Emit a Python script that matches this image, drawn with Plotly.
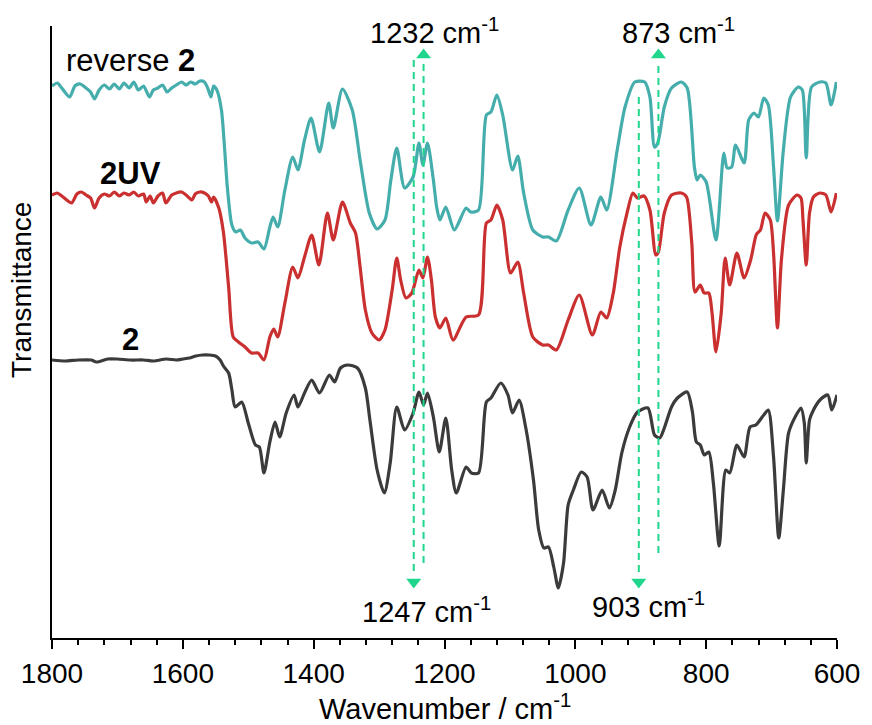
import plotly.graph_objects as go

# ---------------- data ----------------
wn_rev = [1800,1792,1785,1773,1765,1757,1748,1741,1735,1728,1720,1712,1705,1697,1690,1682,1675,1668,1660,1651,
          1645,1638,1631,1624,1617,1610,1602,1595,1588,1581,1574,1567,1562,1557,1553,1548,1541,1536,1532,1525,
          1519,1512,1505,1495,1485,1476,1467,1462,1455,1444,1432,1424,1414,1404,1391,1377,1370,1356,1341,1329,
          1315,1303,1291,1282,1273,1261,1248,1239,1233,1226,1217,1212,1207,1198,1185,1167,1160,1148,1136,1129,
          1120,1111,1096,1088,1079,1065,1050,1041,1029,1011,994,976,961,952,936,924,909,894,886,879,
          874,864,853,838,829,818,814,809,800,785,773,768,761,755,742,735,727,720,712,705,
          697,691,682,671,659,653,647,639,626,617,609,601]
t_rev = [552,555,550,541,552,554,550,546,539,548,553,549,554,549,555,550,556,548,552,541,
         548,550,553,546,550,553,556,553,556,554,557,556,550,541,552,548,528,488,451,413,
         406,408,400,395,396,389,411,421,411,448,481,468,498,520,486,535,510,549,528,478,
         425,409,418,458,490,450,461,495,473,495,458,431,418,431,408,430,426,428,523,526,
         543,523,468,482,445,408,401,401,397,428,450,413,441,428,488,531,556,556,541,491,
         495,531,550,556,550,471,458,463,456,398,485,470,471,493,475,518,525,521,540,533,
         471,417,488,541,551,548,480,551,556,555,533,556]

wn_uv = [1800,1792,1785,1770,1762,1755,1748,1741,1735,1728,1720,1712,1705,1697,1690,1682,1675,1668,1660,1656,
         1650,1645,1638,1631,1626,1617,1610,1602,1595,1586,1581,1574,1567,1561,1556,1553,1545,1538,1530,1523,
         1515,1505,1495,1485,1476,1467,1461,1455,1444,1432,1424,1414,1403,1392,1379,1370,1356,1344,1336,1329,
         1321,1311,1300,1291,1280,1273,1267,1259,1250,1239,1233,1226,1220,1214,1207,1198,1187,1167,1148,1136,
         1129,1120,1111,1099,1088,1079,1065,1050,1041,1029,1011,994,974,961,952,942,932,921,912,905,
         895,886,877,873,864,853,838,830,822,817,809,803,796,791,785,777,771,764,753,742,
         732,723,717,710,702,697,691,685,674,661,655,652,647,642,636,626,617,609,601]
t_uv = [443,445,442,435,444,446,443,440,430,440,444,442,446,442,445,443,446,442,444,436,
        442,435,442,445,435,443,445,446,443,438,444,446,445,442,436,441,430,406,351,301,
        296,291,285,285,278,301,309,301,335,371,360,381,403,373,425,398,436,415,405,371,
        328,305,298,308,348,380,358,340,345,368,360,381,358,321,310,320,298,321,323,415,
        418,433,418,365,376,345,301,293,293,288,318,343,303,326,320,345,391,425,445,440,
        442,428,383,386,425,443,445,441,395,346,353,345,345,325,286,325,380,353,385,360,
        378,404,408,425,418,385,310,378,433,443,440,418,373,425,441,445,443,426,445]

wn_2 = [1800,1780,1760,1740,1732,1715,1700,1680,1660,1645,1625,1610,1600,1590,1580,1570,1560,1550,1543,1538,
        1530,1525,1520,1510,1500,1489,1483,1476,1467,1459,1452,1442,1430,1424,1414,1403,1391,1376,1368,1359,
        1348,1333,1321,1314,1303,1292,1283,1273,1261,1248,1239,1232,1226,1217,1208,1198,1189,1182,1167,1159,
        1148,1136,1129,1114,1103,1096,1086,1076,1064,1056,1048,1041,1033,1026,1018,1011,1003,991,982,973,
        959,948,939,929,917,905,889,879,871,864,853,844,829,821,815,809,803,796,789,780,
        770,764,753,742,733,724,712,705,697,689,682,674,664,655,650,647,642,636,626,614,
        608,600]
t_2 = [278,277,278,278,276,279,279,278,278,277,279,278,279,280,282,283,283,282,278,272,
       265,248,231,236,215,193,191,165,196,216,201,225,243,231,245,258,245,263,256,270,
       273,270,250,218,168,145,175,231,208,225,246,233,245,221,186,220,168,145,171,165,
       165,236,240,255,243,225,238,211,158,108,90,91,71,50,75,133,148,166,161,128,
       148,130,148,185,211,226,230,203,200,210,231,240,246,226,196,193,183,186,155,92,
       168,165,193,181,211,213,223,228,181,100,148,205,221,230,215,175,218,228,238,243,
       228,243]

series_names = ["reverse <b>2</b>", "<b>2UV</b>", "<b>2</b>"]
series_colors = ["#45aeac", "#c9302f", "#3b3b3b"]

# marked bands
band_wn = [1232, 1247, 903, 873]
band_dir = ["up", "down", "down", "up"]
band_labels = ["1232 cm<sup>-1</sup>", "1247 cm<sup>-1</sup>", "903 cm<sup>-1</sup>", "873 cm<sup>-1</sup>"]
band_y_from = [75, 578, 541, 85]
band_y_to = [583, 56, 56, 583]
band_label_x = [1216, 1228, 888, 842]
band_label_y = [607, 28, 33, 607]

FONT = "Arial, Liberation Sans, sans-serif"
GREEN = "#1fd68c"

fig = go.Figure()
for wn, t, col in zip([wn_rev, wn_uv, wn_2], [t_rev, t_uv, t_2], series_colors):
    fig.add_trace(go.Scatter(x=wn, y=t, mode="lines",
                             line=dict(color=col, width=3.2, shape="spline", smoothing=0.7),
                             showlegend=False, hoverinfo="skip"))

for wn, d, y0, y1 in zip(band_wn, band_dir, band_y_from, band_y_to):
    fig.add_trace(go.Scatter(x=[wn, wn], y=[y0, y1 + (-9 if d == "up" else 9)], mode="lines",
                             line=dict(color=GREEN, width=2, dash="7px,5px"),
                             showlegend=False, hoverinfo="skip"))
    fig.add_trace(go.Scatter(x=[wn], y=[y1], mode="markers",
                             marker=dict(symbol="triangle-up" if d == "up" else "triangle-down",
                                         size=13, color=GREEN, line=dict(width=0)),
                             showlegend=False, hoverinfo="skip", cliponaxis=False))

for lbl, x, y in zip(band_labels, band_label_x, band_label_y):
    fig.add_annotation(x=x, y=y, xref="x", yref="y", text=lbl, showarrow=False,
                       font=dict(family=FONT, size=29, color="black"),
                       xanchor="center", yanchor="middle")

# series labels
series_label_x = [1680, 1680, 1680]
series_label_y = [578, 465, 299]
for lbl, x, y in zip(series_names, series_label_x, series_label_y):
    fig.add_annotation(x=x, y=y, xref="x", yref="y", text=lbl, showarrow=False,
                       font=dict(family=FONT, size=31, color="black"),
                       xanchor="center", yanchor="middle")

# axis titles
fig.add_annotation(x=0.5, y=-0.113, xref="paper", yref="paper",
                   text="Wavenumber / cm<sup>-1</sup>", showarrow=False,
                   font=dict(family=FONT, size=29, color="black"),
                   xanchor="center", yanchor="middle")
fig.add_annotation(x=-0.038, y=0.569, xref="paper", yref="paper",
                   text="Transmittance", showarrow=False, textangle=-90,
                   font=dict(family=FONT, size=28, color="black"),
                   xanchor="center", yanchor="middle")

fig.update_layout(
    width=872, height=725,
    margin=dict(l=52, r=28, t=26, b=87),
    paper_bgcolor="white", plot_bgcolor="white",
    xaxis=dict(range=[1800, 600], tickvals=[1800, 1600, 1400, 1200, 1000, 800, 600],
               ticks="outside", ticklen=9, tickwidth=2, tickcolor="black",
               showline=True, linewidth=2, linecolor="black", showgrid=False, zeroline=False,
               tickfont=dict(family=FONT, size=28, color="black"),
               minor=dict(dtick=40, ticks="outside", ticklen=5, tickwidth=2, tickcolor="black", showgrid=False)),
    yaxis=dict(range=[0, 612], showticklabels=False, ticks="", showline=True, linewidth=2,
               linecolor="black", showgrid=False, zeroline=False),
)

fig.write_html("out.html")
